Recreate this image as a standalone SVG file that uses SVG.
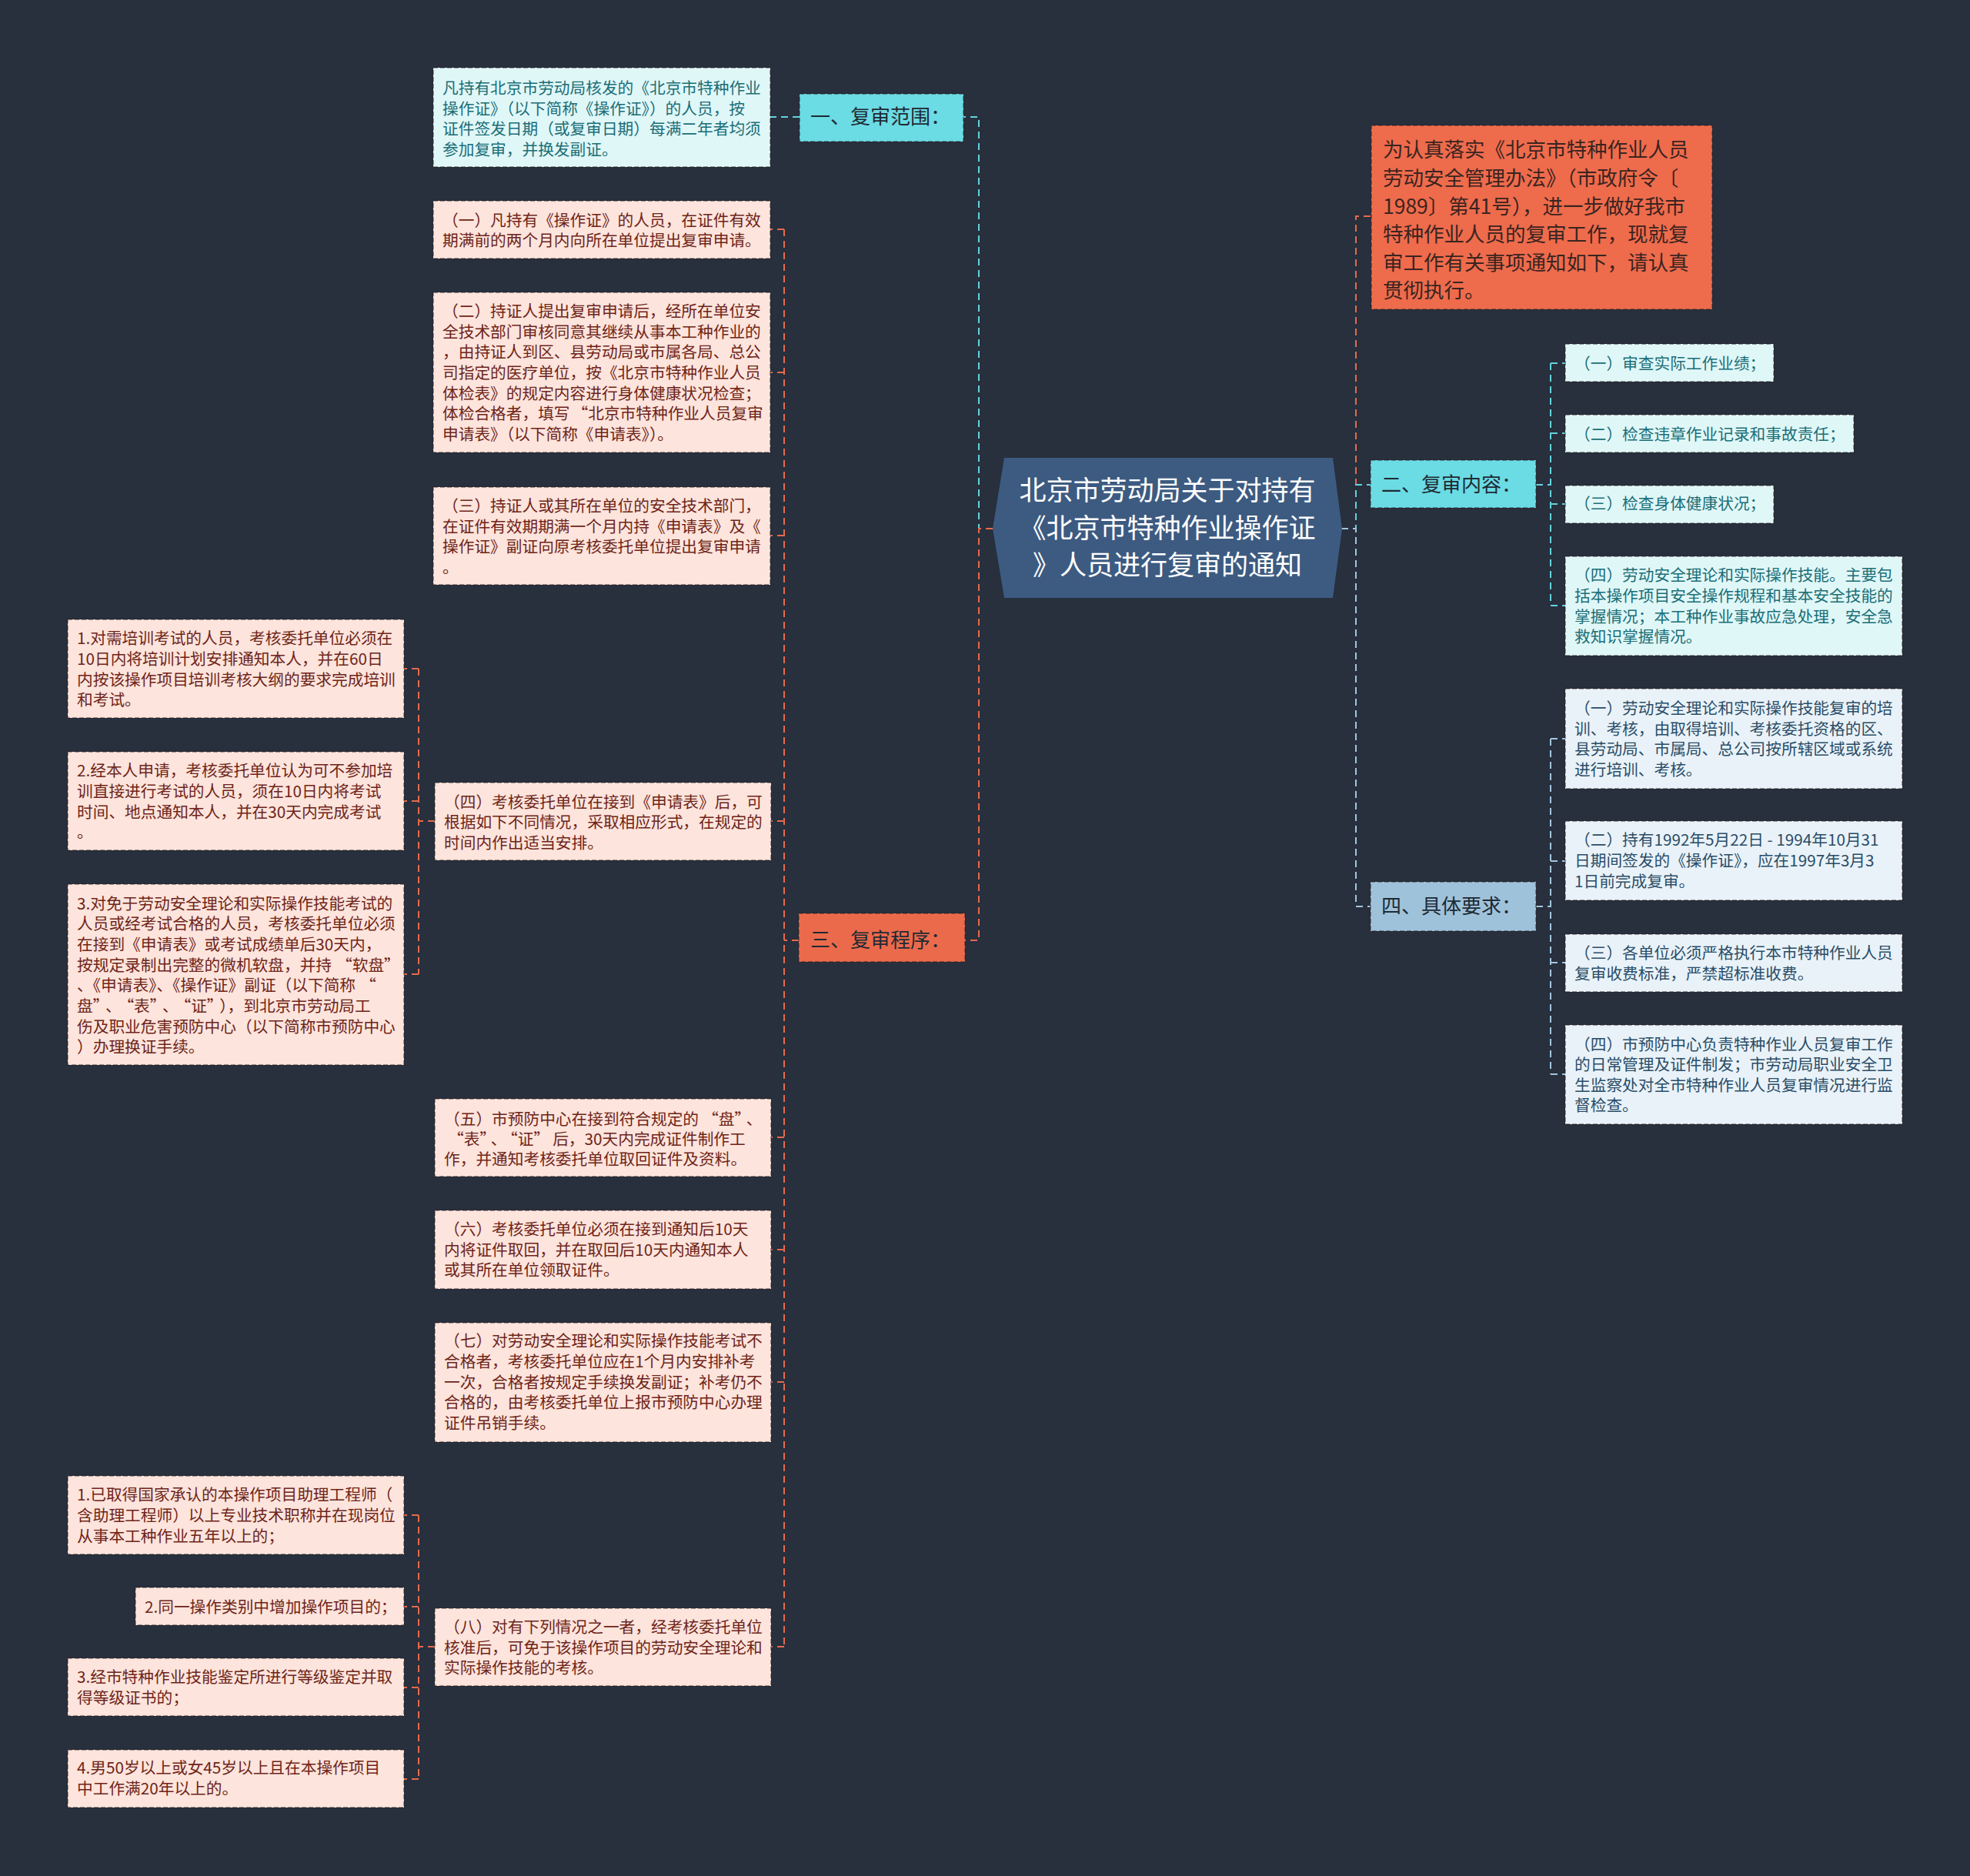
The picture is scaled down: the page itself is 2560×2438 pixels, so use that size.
<svg xmlns="http://www.w3.org/2000/svg" width="2560" height="2438" viewBox="0 0 2560 2438">
<style>
text{font-family:"Noto Sans CJK SC","Microsoft YaHei","Liberation Sans",sans-serif;}
.bg{fill:#282f3d;}
.box{stroke:rgba(40,30,30,0.55);stroke-width:1.5;stroke-dasharray:6 3;}
.pink{fill:#fde4dc;}
.cyanl{fill:#e0f7f8;}
.bluel{fill:#e9f2f8;}
.tp{font-size:20.7px;fill:#6e2419;}
.tc{font-size:20.7px;fill:#1a6e76;}
.tb{font-size:20.7px;fill:#2a4d68;}
.hdr{font-size:26px;fill:#1e2a33;}
.c{fill:none;stroke-width:2;stroke-dasharray:9 6;}
.co{stroke:#e56a4c;}
.cc{stroke:#62d3dc;}
.cb{stroke:#a3c5de;}
</style>
<rect class="bg" x="0" y="0" width="2560" height="2438"/>

<g id="connectors">
  <path class="c cc" d="M1290,687 H1272 V152 H1252"/>
  <path class="c co" d="M1290,687 H1272 V1222 H1254"/>
  <path class="c cc" d="M1039,152 H1001"/>
  <path class="c co" d="M1038,1222 H1019"/>
  <path class="c co" d="M1019,298 V2140"/>
  <path class="c co" d="M1019,298 H1001 M1019,484 H1001 M1019,696 H1001 M1019,1067 H1001 M1019,1478 H1001 M1019,1624 H1001 M1019,1796 H1001 M1019,2140 H1001"/>
  <path class="c co" d="M565,1067 H544 M544,869 V1266 M544,869 H525 M544,1041 H525 M544,1266 H525"/>
  <path class="c co" d="M565,2140 H544 M544,1969 V2312 M544,1969 H525 M544,2088 H525 M544,2193 H525 M544,2312 H525"/>
  <path class="c co" d="M1743,687 H1762 V281 H1782"/>
  <path class="c cc" d="M1743,687 H1762 V630 H1781"/>
  <path class="c cb" d="M1743,687 H1762 V1178 H1781"/>
  <path class="c cc" d="M1996,630 H2015 M2015,472 V787 M2015,472 H2034 M2015,563 H2034 M2015,655 H2034 M2015,787 H2034"/>
  <path class="c cb" d="M1996,1178 H2015 M2015,960 V1396 M2015,960 H2034 M2015,1119 H2034 M2015,1251 H2034 M2015,1396 H2034"/>
</g>

<g id="center">
  <polygon points="1290,687 1305,595 1732,595 1744,687 1732,777 1305,777" fill="#3d5b81"/>
  <text x="1517" y="650" text-anchor="middle" style="font-size:35px;fill:#ffffff">北京市劳动局关于对持有</text>
  <text x="1517" y="699" text-anchor="middle" style="font-size:35px;fill:#ffffff">《北京市特种作业操作证</text>
  <text x="1517" y="747" text-anchor="middle" style="font-size:35px;fill:#ffffff">》人员进行复审的通知</text>
</g>

<g id="intro">
  <rect class="box" x="1782" y="163" width="443" height="239" fill="#ee6b4c"/>
  <text style="font-size:26.5px;fill:#3a2420">
    <tspan x="1797" y="204">为认真落实《北京市特种作业人员</tspan>
    <tspan x="1797" y="241">劳动安全管理办法》（市政府令〔</tspan>
    <tspan x="1797" y="278">1989〕第41号），进一步做好我市</tspan>
    <tspan x="1797" y="314">特种作业人员的复审工作，现就复</tspan>
    <tspan x="1797" y="351">审工作有关事项通知如下，请认真</tspan>
    <tspan x="1797" y="387">贯彻执行。</tspan>
  </text>
</g>

<g id="n1">
  <rect class="box" x="1039" y="122" width="213" height="62" fill="#6bdbe4"/>
  <text class="hdr" x="1053" y="161">一、复审范围：</text>
</g>
<g id="n1a">
  <rect class="box cyanl" x="563" y="88" width="438" height="129"/>
  <text class="tc">
    <tspan x="575" y="122">凡持有北京市劳动局核发的《北京市特种作业</tspan>
    <tspan x="575" y="149">操作证》（以下简称《操作证》）的人员，按</tspan>
    <tspan x="575" y="175">证件签发日期（或复审日期）每满二年者均须</tspan>
    <tspan x="575" y="202">参加复审，并换发副证。</tspan>
  </text>
</g>

<g id="n3">
  <rect class="box" x="1038" y="1187" width="216" height="63" fill="#ec6a4c"/>
  <text class="hdr" x="1053" y="1231">三、复审程序：</text>
</g>
<g id="n3b1">
  <rect class="box pink" x="563" y="261" width="438" height="75"/>
  <text class="tp">
    <tspan x="575" y="294">（一）凡持有《操作证》的人员，在证件有效</tspan>
    <tspan x="575" y="320">期满前的两个月内向所在单位提出复审申请。</tspan>
  </text>
</g>
<g id="n3b2">
  <rect class="box pink" x="563" y="380" width="438" height="208"/>
  <text class="tp">
    <tspan x="575" y="412">（二）持证人提出复审申请后，经所在单位安</tspan>
    <tspan x="575" y="439">全技术部门审核同意其继续从事本工种作业的</tspan>
    <tspan x="575" y="465">，由持证人到区、县劳动局或市属各局、总公</tspan>
    <tspan x="575" y="492">司指定的医疗单位，按《北京市特种作业人员</tspan>
    <tspan x="575" y="519">体检表》的规定内容进行身体健康状况检查；</tspan>
    <tspan x="575" y="545">体检合格者，填写<tspan dx="3">“</tspan>北京市特种作业人员复审</tspan>
    <tspan x="575" y="572">申请表》（以下简称《申请表》）。</tspan>
  </text>
</g>
<g id="n3b3">
  <rect class="box pink" x="563" y="633" width="438" height="127"/>
  <text class="tp">
    <tspan x="575" y="665">（三）持证人或其所在单位的安全技术部门，</tspan>
    <tspan x="575" y="692">在证件有效期期满一个月内持《申请表》及《</tspan>
    <tspan x="575" y="718">操作证》副证向原考核委托单位提出复审申请</tspan>
    <tspan x="575" y="745">。</tspan>
  </text>
</g>
<g id="n3b4">
  <rect class="box pink" x="565" y="1017" width="437" height="101"/>
  <text class="tp">
    <tspan x="577" y="1050">（四）考核委托单位在接到《申请表》后，可</tspan>
    <tspan x="577" y="1076">根据如下不同情况，采取相应形式，在规定的</tspan>
    <tspan x="577" y="1103">时间内作出适当安排。</tspan>
  </text>
</g>
<g id="n3b4c1">
  <rect class="box pink" x="88" y="805" width="437" height="128"/>
  <text class="tp">
    <tspan x="100" y="837">1.对需培训考试的人员，考核委托单位必须在</tspan>
    <tspan x="100" y="864">10日内将培训计划安排通知本人，并在60日</tspan>
    <tspan x="100" y="891">内按该操作项目培训考核大纲的要求完成培训</tspan>
    <tspan x="100" y="917">和考试。</tspan>
  </text>
</g>
<g id="n3b4c2">
  <rect class="box pink" x="88" y="977" width="437" height="128"/>
  <text class="tp">
    <tspan x="100" y="1009">2.经本人申请，考核委托单位认为可不参加培</tspan>
    <tspan x="100" y="1036">训直接进行考试的人员，须在10日内将考试</tspan>
    <tspan x="100" y="1063">时间、地点通知本人，并在30天内完成考试</tspan>
    <tspan x="100" y="1089">。</tspan>
  </text>
</g>
<g id="n3b4c3">
  <rect class="box pink" x="88" y="1149" width="437" height="235"/>
  <text class="tp">
    <tspan x="100" y="1182">3.对免于劳动安全理论和实际操作技能考试的</tspan>
    <tspan x="100" y="1208">人员或经考试合格的人员，考核委托单位必须</tspan>
    <tspan x="100" y="1235">在接到《申请表》或考试成绩单后30天内，</tspan>
    <tspan x="100" y="1262">按规定录制出完整的微机软盘，并持<tspan dx="6">“</tspan>软盘”</tspan>
    <tspan x="100" y="1288">、《申请表》、《操作证》副证（以下简称<tspan dx="6">“</tspan></tspan>
    <tspan x="100" y="1315">盘”<tspan dx="6">、</tspan><tspan dx="6">“</tspan>表”<tspan dx="6">、</tspan><tspan dx="6">“</tspan>证”<tspan dx="6">），到北京市劳动局工</tspan></tspan>
    <tspan x="100" y="1342">伤及职业危害预防中心（以下简称市预防中心</tspan>
    <tspan x="100" y="1368">）办理换证手续。</tspan>
  </text>
</g>
<g id="n3b5">
  <rect class="box pink" x="565" y="1428" width="437" height="101"/>
  <text class="tp">
    <tspan x="577" y="1462">（五）市预防中心在接到符合规定的<tspan dx="5">“</tspan>盘”<tspan dx="5">、</tspan></tspan>
    <tspan x="577" y="1488"><tspan dx="5">“</tspan>表”<tspan dx="4">、</tspan><tspan dx="4">“</tspan>证”<tspan dx="4">后，30天内完成证件制作工</tspan></tspan>
    <tspan x="577" y="1514">作，并通知考核委托单位取回证件及资料。</tspan>
  </text>
</g>
<g id="n3b6">
  <rect class="box pink" x="565" y="1573" width="437" height="102"/>
  <text class="tp">
    <tspan x="577" y="1605">（六）考核委托单位必须在接到通知后10天</tspan>
    <tspan x="577" y="1632">内将证件取回，并在取回后10天内通知本人</tspan>
    <tspan x="577" y="1658">或其所在单位领取证件。</tspan>
  </text>
</g>
<g id="n3b7">
  <rect class="box pink" x="565" y="1719" width="437" height="155"/>
  <text class="tp">
    <tspan x="577" y="1750">（七）对劳动安全理论和实际操作技能考试不</tspan>
    <tspan x="577" y="1777">合格者，考核委托单位应在1个月内安排补考</tspan>
    <tspan x="577" y="1804">一次，合格者按规定手续换发副证；补考仍不</tspan>
    <tspan x="577" y="1830">合格的，由考核委托单位上报市预防中心办理</tspan>
    <tspan x="577" y="1857">证件吊销手续。</tspan>
  </text>
</g>
<g id="n3b8">
  <rect class="box pink" x="565" y="2090" width="437" height="101"/>
  <text class="tp">
    <tspan x="577" y="2122">（八）对有下列情况之一者，经考核委托单位</tspan>
    <tspan x="577" y="2149">核准后，可免于该操作项目的劳动安全理论和</tspan>
    <tspan x="577" y="2175">实际操作技能的考核。</tspan>
  </text>
</g>
<g id="n3b8c1">
  <rect class="box pink" x="88" y="1918" width="437" height="102"/>
  <text class="tp">
    <tspan x="100" y="1950">1.已取得国家承认的本操作项目助理工程师（</tspan>
    <tspan x="100" y="1977">含助理工程师）以上专业技术职称并在现岗位</tspan>
    <tspan x="100" y="2004">从事本工种作业五年以上的；</tspan>
  </text>
</g>
<g id="n3b8c2">
  <rect class="box pink" x="176" y="2063" width="349" height="49"/>
  <text class="tp" x="188" y="2096">2.同一操作类别中增加操作项目的；</text>
</g>
<g id="n3b8c3">
  <rect class="box pink" x="88" y="2155" width="437" height="75"/>
  <text class="tp">
    <tspan x="100" y="2187">3.经市特种作业技能鉴定所进行等级鉴定并取</tspan>
    <tspan x="100" y="2214">得等级证书的；</tspan>
  </text>
</g>
<g id="n3b8c4">
  <rect class="box pink" x="88" y="2274" width="437" height="75"/>
  <text class="tp">
    <tspan x="100" y="2305">4.男50岁以上或女45岁以上且在本操作项目</tspan>
    <tspan x="100" y="2332">中工作满20年以上的。</tspan>
  </text>
</g>

<g id="n2">
  <rect class="box" x="1781" y="598" width="215" height="62" fill="#6bdbe4"/>
  <text class="hdr" x="1795" y="639">二、复审内容：</text>
</g>
<g id="n2c1">
  <rect class="box cyanl" x="2034" y="447" width="271" height="49"/>
  <text class="tc" x="2046" y="480">（一）审查实际工作业绩；</text>
</g>
<g id="n2c2">
  <rect class="box cyanl" x="2034" y="539" width="375" height="49"/>
  <text class="tc" x="2046" y="572">（二）检查违章作业记录和事故责任；</text>
</g>
<g id="n2c3">
  <rect class="box cyanl" x="2034" y="631" width="271" height="49"/>
  <text class="tc" x="2046" y="662">（三）检查身体健康状况；</text>
</g>
<g id="n2c4">
  <rect class="box cyanl" x="2034" y="723" width="438" height="129"/>
  <text class="tc">
    <tspan x="2046" y="755">（四）劳动安全理论和实际操作技能。主要包</tspan>
    <tspan x="2046" y="782">括本操作项目安全操作规程和基本安全技能的</tspan>
    <tspan x="2046" y="809">掌握情况；本工种作业事故应急处理，安全急</tspan>
    <tspan x="2046" y="835">救知识掌握情况。</tspan>
  </text>
</g>

<g id="n4">
  <rect class="box" x="1781" y="1146" width="215" height="64" fill="#9fc2db"/>
  <text class="hdr" x="1795" y="1187">四、具体要求：</text>
</g>
<g id="n4c1">
  <rect class="box bluel" x="2034" y="895" width="438" height="130"/>
  <text class="tb">
    <tspan x="2046" y="928">（一）劳动安全理论和实际操作技能复审的培</tspan>
    <tspan x="2046" y="955">训、考核，由取得培训、考核委托资格的区、</tspan>
    <tspan x="2046" y="981">县劳动局、市属局、总公司按所辖区域或系统</tspan>
    <tspan x="2046" y="1008">进行培训、考核。</tspan>
  </text>
</g>
<g id="n4c2">
  <rect class="box bluel" x="2034" y="1067" width="438" height="103"/>
  <text class="tb">
    <tspan x="2046" y="1099">（二）持有1992年5月22日 - 1994年10月31</tspan>
    <tspan x="2046" y="1126">日期间签发的《操作证》，应在1997年3月3</tspan>
    <tspan x="2046" y="1153">1日前完成复审。</tspan>
  </text>
</g>
<g id="n4c3">
  <rect class="box bluel" x="2034" y="1214" width="438" height="75"/>
  <text class="tb">
    <tspan x="2046" y="1246">（三）各单位必须严格执行本市特种作业人员</tspan>
    <tspan x="2046" y="1273">复审收费标准，严禁超标准收费。</tspan>
  </text>
</g>
<g id="n4c4">
  <rect class="box bluel" x="2034" y="1332" width="438" height="129"/>
  <text class="tb">
    <tspan x="2046" y="1365">（四）市预防中心负责特种作业人员复审工作</tspan>
    <tspan x="2046" y="1391">的日常管理及证件制发；市劳动局职业安全卫</tspan>
    <tspan x="2046" y="1418">生监察处对全市特种作业人员复审情况进行监</tspan>
    <tspan x="2046" y="1444">督检查。</tspan>
  </text>
</g>
</svg>
